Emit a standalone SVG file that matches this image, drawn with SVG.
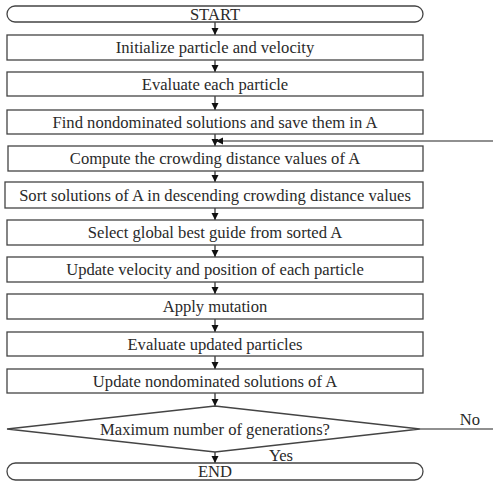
<svg xmlns="http://www.w3.org/2000/svg" width="493" height="482" viewBox="0 0 493 482">
<defs>
<marker id="ah" markerWidth="8" markerHeight="8" refX="7" refY="4" orient="auto" markerUnits="userSpaceOnUse">
<path d="M0,0.5 L7,4 L0,7.5 Z" fill="#111"/>
</marker>
</defs>
<style>
.box{fill:#fff;stroke:#444;stroke-width:1.3}
.t{font-family:"Liberation Serif","Times New Roman",serif;font-size:16.6px;fill:#2a2a2a;text-anchor:middle}
.c{stroke:#222;stroke-width:1.2;fill:none}
</style>
<rect width="493" height="482" fill="#fff"/>
<g id="connectors">
<line class="c" x1="215" y1="22" x2="215" y2="35" marker-end="url(#ah)"/>
<line class="c" x1="215" y1="60" x2="215" y2="72" marker-end="url(#ah)"/>
<line class="c" x1="215" y1="96" x2="215" y2="110" marker-end="url(#ah)"/>
<line class="c" x1="215" y1="134" x2="215" y2="146" marker-end="url(#ah)"/>
<line class="c" x1="493" y1="141" x2="216" y2="141" marker-end="url(#ah)"/>
<line class="c" x1="215" y1="171" x2="215" y2="182" marker-end="url(#ah)"/>
<line class="c" x1="215" y1="208" x2="215" y2="220" marker-end="url(#ah)"/>
<line class="c" x1="215" y1="245" x2="215" y2="257" marker-end="url(#ah)"/>
<line class="c" x1="215" y1="282" x2="215" y2="294" marker-end="url(#ah)"/>
<line class="c" x1="215" y1="319" x2="215" y2="332" marker-end="url(#ah)"/>
<line class="c" x1="215" y1="356" x2="215" y2="369" marker-end="url(#ah)"/>
<line class="c" x1="215" y1="393" x2="215" y2="406" marker-end="url(#ah)"/>
<line class="c" x1="215" y1="452" x2="215" y2="463" marker-end="url(#ah)"/>
<line class="c" x1="420" y1="429" x2="493" y2="429"/>
<text class="t" x="470" y="425">No</text>
<text class="t" x="281" y="461">Yes</text>
</g>
<g id="start"><rect class="box" x="7" y="6" width="416" height="16" rx="8"/><text class="t" x="215" y="20">START</text></g>
<g id="init"><rect class="box" x="7" y="35" width="416" height="25"/><text class="t" x="215" y="53">Initialize particle and velocity</text></g>
<g id="eval"><rect class="box" x="7" y="72" width="416" height="24"/><text class="t" x="215" y="90">Evaluate each particle</text></g>
<g id="find"><rect class="box" x="7" y="110" width="416" height="24"/><text class="t" x="215" y="128">Find nondominated solutions and save them in A</text></g>
<g id="compute"><rect class="box" x="8" y="146" width="415" height="25"/><text class="t" x="215" y="164">Compute the crowding distance values of A</text></g>
<g id="sort"><rect class="box" x="5" y="182" width="418" height="26"/><text class="t" x="215" y="201">Sort solutions of A in descending crowding distance values</text></g>
<g id="select"><rect class="box" x="7" y="220" width="416" height="25"/><text class="t" x="215" y="238">Select global best guide from sorted A</text></g>
<g id="update"><rect class="box" x="7" y="257" width="416" height="25"/><text class="t" x="215" y="275">Update velocity and position of each particle</text></g>
<g id="mutation"><rect class="box" x="7" y="294" width="416" height="25"/><text class="t" x="215" y="312">Apply mutation</text></g>
<g id="evalupd"><rect class="box" x="7" y="332" width="416" height="24"/><text class="t" x="215" y="350">Evaluate updated particles</text></g>
<g id="updnd"><rect class="box" x="7" y="369" width="416" height="24"/><text class="t" x="215" y="387">Update nondominated solutions of A</text></g>
<g id="decision"><polygon class="box" points="215,406 420,429 215,452 7,429"/><text class="t" x="215" y="435">Maximum number of generations?</text></g>
<g id="end"><rect class="box" x="7" y="463" width="416" height="17" rx="8.5"/><text class="t" x="215" y="477">END</text></g>
</svg>
